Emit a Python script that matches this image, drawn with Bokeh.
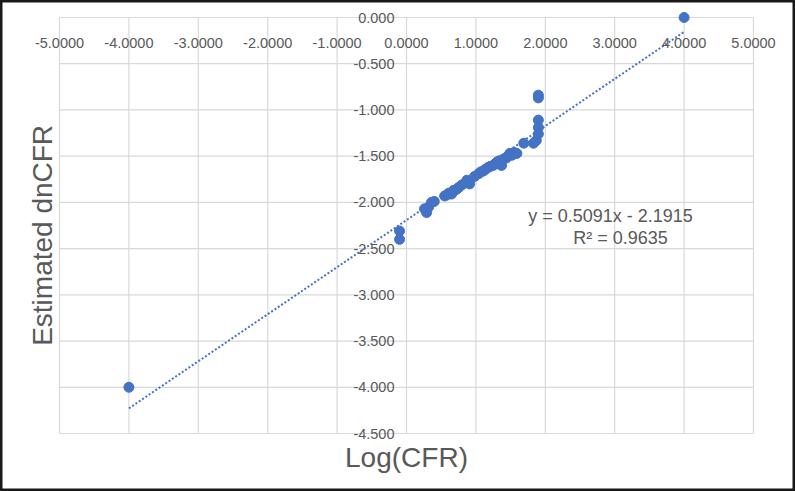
import math
from bokeh.plotting import figure
from bokeh.models import Range1d
from bokeh.embed import file_html
from bokeh.resources import INLINE
from bokeh.core.properties import value

# ---------------- data ----------------
log_cfr = [-4.00, 4.00, -0.10, -0.10, 0.26, 0.29, 0.32, 0.36, 0.40,
           0.55, 0.58, 0.61, 0.65, 0.68, 0.72, 0.75, 0.80,
           0.87, 0.91, 0.98, 1.04, 1.07, 1.11, 1.14, 1.18,
           1.21, 1.25, 1.28, 1.31, 1.34, 1.37, 1.40, 1.44,
           1.46, 1.49, 1.52, 1.55, 1.59,
           1.69, 1.83, 1.87, 1.90, 1.90, 1.90, 1.90, 1.90]
est_dncfr = [-4.00, 0.00, -2.31, -2.40, -2.07, -2.11, -2.05, -2.00, -1.99,
             -1.93, -1.92, -1.90, -1.91, -1.87, -1.86, -1.84, -1.81,
             -1.76, -1.80, -1.72, -1.69, -1.67, -1.66, -1.64, -1.62,
             -1.61, -1.60, -1.58, -1.56, -1.55, -1.60, -1.53, -1.52,
             -1.50, -1.47, -1.49, -1.46, -1.47,
             -1.36, -1.36, -1.33, -1.26, -1.19, -1.11, -0.87, -0.84]

x_ticks = [-5, -4, -3, -2, -1, 0, 1, 2, 3, 4, 5]
x_tick_labels = ["-5.0000", "-4.0000", "-3.0000", "-2.0000", "-1.0000", "0.0000",
                 "1.0000", "2.0000", "3.0000", "4.0000", "5.0000"]
y_ticks = [0.0, -0.5, -1.0, -1.5, -2.0, -2.5, -3.0, -3.5, -4.0, -4.5]
y_tick_labels = ["0.000", "-0.500", "-1.000", "-1.500", "-2.000", "-2.500",
                 "-3.000", "-3.500", "-4.000", "-4.500"]

trend_slope = 0.5091
trend_intercept = -2.1915
trend_r2 = 0.9635

x_title = "Log(CFR)"
y_title = "Estimated  dnCFR"

# ---------------- layout ----------------
W, H = 795, 491
PX_LEFT, PX_RIGHT = 59, 753     # canvas px of x=-5 / x=5
PX_TOP, PX_BOTTOM = 17, 433     # canvas px of y=0 / y=-4.5
xmin, xmax = min(x_ticks), max(x_ticks)
ymin, ymax = min(y_ticks), max(y_ticks)
sx = (PX_RIGHT - PX_LEFT) / (xmax - xmin)
sy = (PX_BOTTOM - PX_TOP) / (ymax - ymin)
x_start = xmin - PX_LEFT / sx
x_end = x_start + W / sx
y_end = ymax + PX_TOP / sy
y_start = y_end - H / sy


def px_x(px):
    return x_start + px / sx


def px_y(py):
    return y_end - py / sy


GRID = "#d9d9d9"
TXT = "#595959"
BLUE = "#4472C4"
FONT = value("Liberation Sans")

p = figure(width=W, height=H,
           x_range=Range1d(x_start, x_end), y_range=Range1d(y_start, y_end),
           output_backend="svg", toolbar_location=None,
           x_axis_location=None, y_axis_location=None,
           min_border=0, outline_line_color="#1a1a1a", outline_line_width=4,
           background_fill_color="white", border_fill_color="white")
p.grid.visible = False

# gridlines
p.segment(x0=x_ticks, y0=[ymin] * len(x_ticks), x1=x_ticks, y1=[ymax] * len(x_ticks),
          line_color=GRID, line_width=1.2)
p.segment(x0=[xmin] * len(y_ticks), y0=y_ticks, x1=[xmax] * len(y_ticks), y1=y_ticks,
          line_color=GRID, line_width=1.2)

# trendline
tx = [min(log_cfr), max(log_cfr)]
ty = [trend_slope * v + trend_intercept for v in tx]
p.line(tx, ty, line_color=BLUE, line_width=2, line_dash="2 2")

# points
p.scatter(log_cfr, est_dncfr, size=10, color=BLUE)

# tick labels
p.text(x=x_ticks, y=[ymax] * len(x_ticks), text=x_tick_labels, y_offset=25,
       text_align="center", text_baseline="middle",
       text_font=FONT, text_font_size="14.5px", text_color=TXT)
p.text(x=[0] * len(y_ticks), y=y_ticks, text=y_tick_labels, x_offset=-12,
       text_align="right", text_baseline="middle",
       text_font=FONT, text_font_size="14.5px", text_color=TXT)

# trendline equation
eq1 = f"y = {trend_slope:.4f}x - {abs(trend_intercept):.4f}"
eq2 = f"R\u00b2 = {trend_r2:.4f}"
p.text(x=[px_x(610), px_x(620)], y=[px_y(215), px_y(237)], text=[eq1, eq2],
       text_align="center", text_baseline="middle",
       text_font=FONT, text_font_size="18px", text_color=TXT)

# axis titles
p.text(x=[(xmin + xmax) / 2], y=[ymin], text=[x_title], y_offset=24,
       text_align="center", text_baseline="middle",
       text_font=FONT, text_font_size="28px", text_color=TXT)
p.text(x=[xmin], y=[(ymin + ymax) / 2], text=[y_title], x_offset=-17, y_offset=6,
       angle=math.pi / 2, text_align="center", text_baseline="middle",
       text_font=FONT, text_font_size="28px", text_color=TXT)

open("out.html", "w").write(file_html(p, INLINE))
